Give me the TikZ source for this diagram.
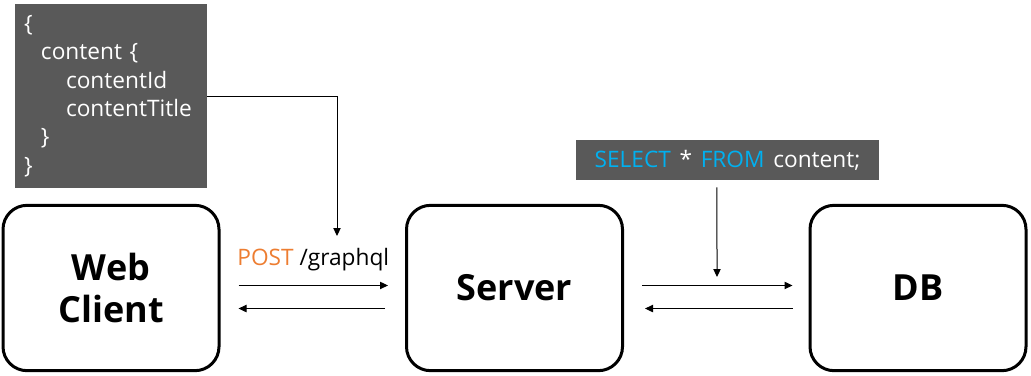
\documentclass[tikz,border=0pt]{standalone}
\usepackage{fontspec}
\setmainfont{Open Sans}
\usetikzlibrary{positioning, calc, arrows.meta}
\definecolor{codeGray}{RGB}{89, 89, 89}
\definecolor{kwBlue}{RGB}{0, 176, 240}
\definecolor{verbOrange}{RGB}{237, 125, 49}

\tikzset{
  tier/.style={draw, line width=2.25pt, rounded corners=18pt,
    minimum width=162pt, minimum height=124pt, align=center,
    font=\fontsize{27}{32}\selectfont\bfseries},
  codebox/.style={fill=codeGray, text=white, inner sep=0pt,
    font=\fontsize{17}{21.3}\selectfont},
  flow/.style={line width=0.75pt, -{Triangle[length=6pt, width=5.5pt]}},
}

\begin{document}
\begin{tikzpicture}[x=0.75pt, y=-0.75pt]
    \useasboundingbox (0,0) rectangle (1031,375);
    %
    % Layout in pixels of the 1031x375 sketch (y grows downwards):
    %   Web Client : x=[2,220],    Server : x=[405,624],   DB : x=[808,1028]
    %   all tiers  : y=[204,372]
    %

    %% -- tiers ------------------------------------------------------
    \node[tier] (web)    at (111,288)   {Web\\Client};
    \node[tier] (server) at (514.5,288) {Server};
    \node[tier] (db)     at (918,288)   {DB};

    %% -- GraphQL query (top left) -----------------------------------
    \node[codebox, minimum width=144pt, minimum height=138pt,
          text width=130.5pt, inner xsep=6.75pt, align=left]
      (query) at (111,96)
      {\{\\
       \hspace*{12.75pt}content \{\\
       \hspace*{31.5pt}contentId\\
       \hspace*{31.5pt}contentTitle\\
       \hspace*{12.75pt}\}\\
       \}};

    %% -- SQL statement (top right) ----------------------------------
    \node[codebox, minimum width=227pt, minimum height=30pt]
      (sql) at (727.5,160)
      {\textcolor{kwBlue}{SELECT}\hspace{6.5pt}*\hspace{6.5pt}\textcolor{kwBlue}{FROM}\hspace{6.5pt}content;};

    %% -- client <-> server ------------------------------------------
    \draw[flow] ([xshift=13.5pt, yshift=1.9pt]web.east)
      -- node[above=7pt, font=\fontsize{17}{20}\selectfont]
           {\textcolor{verbOrange}{POST} /graphql}
         ([xshift=-12.75pt, yshift=1.9pt]server.west);
    \draw[flow] ([xshift=-15pt, yshift=-15.4pt]server.west)
      -- ([xshift=13.5pt, yshift=-15.4pt]web.east);
    % query goes into the request
    \coordinate (postin) at (337,236);
    \draw[flow] (query.east) -| (postin);

    %% -- server <-> db ----------------------------------------------
    \draw[flow] ([xshift=13.5pt, yshift=1.9pt]server.east)
      -- ([xshift=-12pt, yshift=1.9pt]db.west);
    \draw[flow] ([xshift=-12pt, yshift=-15.4pt]db.west)
      -- ([xshift=15.75pt, yshift=-15.4pt]server.east);
    % statement sent to the db
    \coordinate (sqlin) at (717,277);
    \draw[flow] ([xshift=-7.9pt, yshift=-5.25pt]sql.south) -- (sqlin);

  \end{tikzpicture}
\end{document}
